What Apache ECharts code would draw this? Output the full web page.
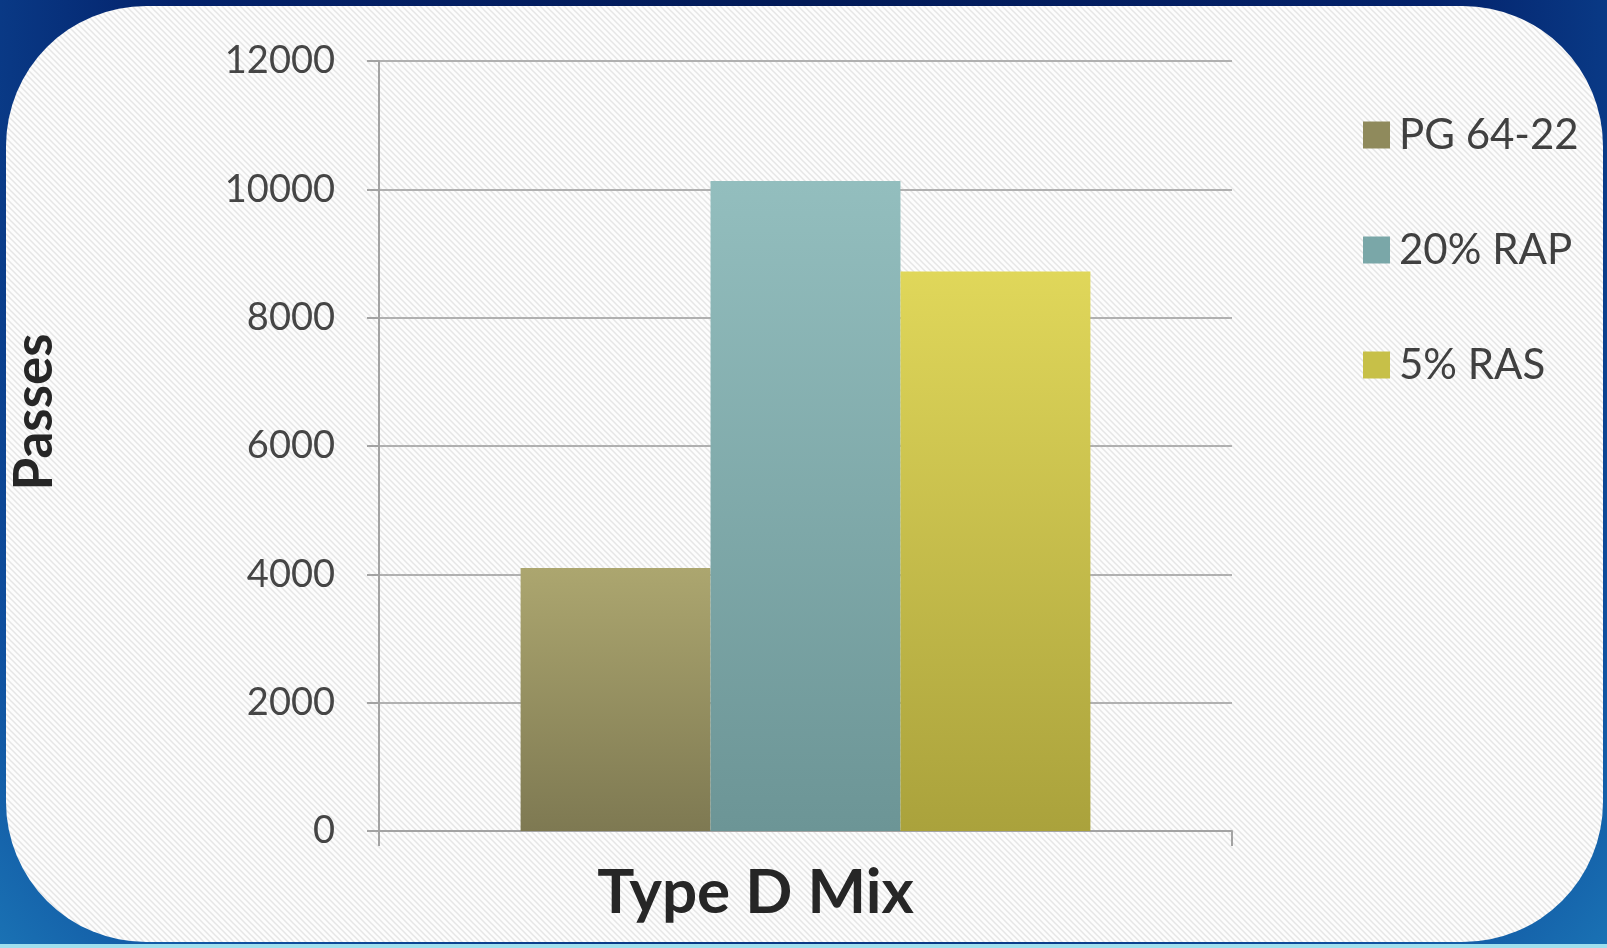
<!DOCTYPE html>
<html>
<head>
<meta charset="utf-8">
<script src="https://cdn.jsdelivr.net/npm/echarts@6/dist/echarts.min.js"></script>
<style>
  html, body { margin: 0; padding: 0; width: 1607px; height: 948px; overflow: hidden; }
  body {
    background: radial-gradient(ellipse at 50% 0%, #021a58 0%, #03216a 55%, #0f4f9e 85%, #1a72b4 100%);
    position: relative;
  }
  #bottomline { position: absolute; left: 0; top: 944px; width: 1607px; height: 4px; background: #9fe0ee; }
  #panel {
    position: absolute; left: 6px; top: 6px; width: 1597px; height: 936px;
    border-radius: 140px;
    background-color: #fdfdfd;
    background-image: url("data:image/svg+xml;utf8,<svg xmlns='http://www.w3.org/2000/svg' width='6' height='6'><path d='M-1,-1 L7,7 M-1,5 L1,7 M5,-1 L7,1' stroke='%23e6e6e6' stroke-width='1.5'/></svg>");
    background-size: 6px 6px;
  }
  #chart { position: absolute; left: 0; top: 0; width: 1607px; height: 948px; }
</style>
</head>
<body>
<div id="bottomline"></div>
<div id="panel"></div>
<div id="chart"></div>
<script>
const categories = ['Type D Mix'];
const seriesNames = ['PG 64-22', '20% RAP', '5% RAS'];
const pg6422 = [4100];
const rap20 = [10130];
const ras5 = [8720];
const yTicks = { min: 0, max: 12000, interval: 2000 };

const grad = (top, bottom) => new echarts.graphic.LinearGradient(0, 0, 0, 1, [
  { offset: 0, color: top }, { offset: 1, color: bottom }
]);
const styles = [
  { fill: grad('#aca66f', '#7e7952'), legend: '#8f8a5c' },
  { fill: grad('#93bebe', '#6c9596'), legend: '#7aa7a8' },
  { fill: grad('#e0d75a', '#aaa23c'), legend: '#c7c048' }
];
const values = [pg6422, rap20, ras5];

const chart = echarts.init(document.getElementById('chart'), null, { renderer: 'canvas' });
chart.setOption({
  backgroundColor: 'transparent',
  animation: false,
  textStyle: { fontFamily: 'Lato' },
  grid: { left: 379, right: 375, top: 61, bottom: 117, containLabel: false, outerBoundsMode: 'none' },
  legend: {
    orient: 'vertical',
    left: 1358,
    top: 109,
    itemWidth: 27,
    itemHeight: 27,
    itemGap: 73,
    icon: 'rect',
    textStyle: { fontFamily: 'Lato', fontSize: 42, lineHeight: 42, color: '#404040', padding: [0, 0, 0, 4] },
    data: seriesNames.map((n, i) => ({ name: n, itemStyle: { color: styles[i].legend } }))
  },
  xAxis: {
    type: 'category',
    data: categories,
    axisLine: { lineStyle: { color: '#a3a3a3', width: 2 } },
    axisTick: { show: true, length: 15, lineStyle: { color: '#a3a3a3', width: 2 } },
    axisLabel: {
      margin: 31,
      fontFamily: 'Lato',
      fontSize: 62,
      fontWeight: 'bold',
      color: '#262626',
      padding: [0, 100, 0, 0]
    }
  },
  yAxis: {
    type: 'value',
    min: yTicks.min,
    max: yTicks.max,
    interval: yTicks.interval,
    name: 'Passes',
    nameLocation: 'middle',
    nameRotate: 90,
    nameGap: 318,
    nameTextStyle: { fontFamily: 'Lato', fontSize: 53, fontWeight: 'bold', color: '#262626', padding: [0, 0, 0, 68] },
    axisLine: { show: true, lineStyle: { color: '#a3a3a3', width: 2 } },
    axisTick: { show: true, length: 12, lineStyle: { color: '#a3a3a3', width: 2 } },
    splitLine: { lineStyle: { color: '#b0b0b0', width: 2 } },
    axisLabel: { margin: 44, fontFamily: 'Lato', fontSize: 38, color: '#454545', formatter: (v) => String(v) }
  },
  series: seriesNames.map((n, i) => ({
    name: n,
    type: 'bar',
    data: values[i],
    barGap: '0%',
    barCategoryGap: '33.2%',
    itemStyle: { color: styles[i].fill }
  }))
});
</script>
</body>
</html>
